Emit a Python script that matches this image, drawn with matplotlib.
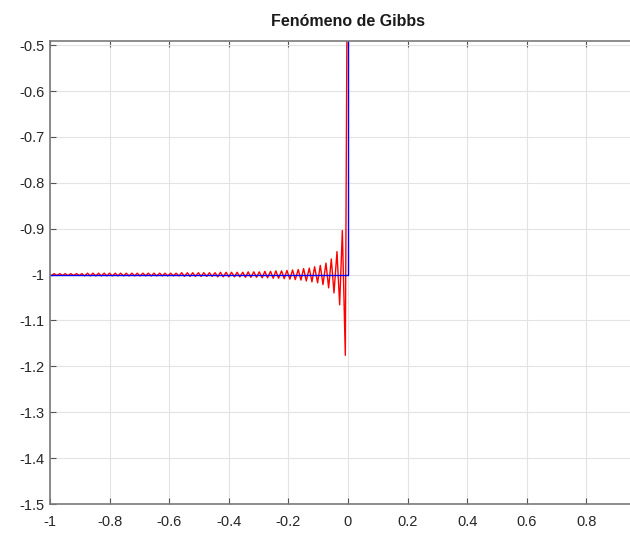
import matplotlib

matplotlib.use("Agg")
import matplotlib.pyplot as plt

# Square wave (blue) and its Fourier partial sum (red)
square_x = [-1.0, 0.0, 0.0, 1.0]
square_y = [-1.0, -1.0, 1.0, 1.0]

# extrema of the red ripple, walking left from x = 0
ripple_x = [
    -0.009, -0.019, -0.028, -0.037, -0.047, -0.056, -0.065, -0.074, -0.084, -0.093,
    -0.102, -0.112, -0.121, -0.130, -0.140, -0.149, -0.158, -0.167, -0.177, -0.186,
    -0.195, -0.205, -0.214, -0.223, -0.233, -0.242, -0.251, -0.260, -0.270, -0.279,
    -0.288, -0.298, -0.307, -0.316, -0.326, -0.335, -0.344, -0.353, -0.363, -0.372,
    -0.381, -0.391, -0.400, -0.409, -0.419, -0.428, -0.437, -0.446, -0.456, -0.465,
    -0.474, -0.484, -0.493, -0.502, -0.512, -0.521, -0.530, -0.539, -0.549, -0.558,
    -0.567, -0.577, -0.586, -0.595, -0.605, -0.614, -0.623, -0.632, -0.642, -0.651,
    -0.660, -0.670, -0.679, -0.688, -0.698, -0.707, -0.716, -0.725, -0.735, -0.744,
    -0.753, -0.763, -0.772, -0.781, -0.791, -0.800, -0.809, -0.818, -0.828, -0.837,
    -0.846, -0.856, -0.865, -0.874, -0.884, -0.893, -0.902, -0.911, -0.921, -0.930,
    -0.939, -0.949, -0.958, -0.967, -0.977, -0.986, -0.995,
]
ripple_y = [
    -1.176, -0.904, -1.066, -0.950, -1.040, -0.966, -1.029, -0.975, -1.022, -0.980,
    -1.018, -0.983, -1.016, -0.986, -1.014, -0.987, -1.012, -0.989, -1.011, -0.990,
    -1.010, -0.991, -1.009, -0.992, -1.008, -0.992, -1.008, -0.993, -1.007, -0.993,
    -1.007, -0.994, -1.006, -0.994, -1.006, -0.994, -1.006, -0.995, -1.005, -0.995,
    -1.005, -0.995, -1.005, -0.995, -1.005, -0.995, -1.005, -0.996, -1.004, -0.996,
    -1.004, -0.996, -1.004, -0.996, -1.004, -0.996, -1.004, -0.996, -1.004, -0.996,
    -1.003, -0.997, -1.003, -0.997, -1.003, -0.997, -1.003, -0.997, -1.003, -0.997,
    -1.003, -0.997, -1.003, -0.997, -1.003, -0.997, -1.003, -0.997, -1.003, -0.997,
    -1.003, -0.997, -1.003, -0.997, -1.003, -0.997, -1.003, -0.997, -1.003, -0.997,
    -1.003, -0.997, -1.003, -0.997, -1.003, -0.998, -1.002, -0.998, -1.002, -0.998,
    -1.002, -0.998, -1.002, -0.998, -1.002, -0.998, -1.002,
]
# jump through zero and the (off-screen) positive side
jump_x = [0.0, 0.009, 1.0]
jump_y = [0.0, 1.179, 1.0]

x_ticks = [-1, -0.8, -0.6, -0.4, -0.2, 0, 0.2, 0.4, 0.6, 0.8]
x_labels = ["-1", "-0.8", "-0.6", "-0.4", "-0.2", "0", "0.2", "0.4", "0.6", "0.8"]
y_ticks = [-1.5, -1.4, -1.3, -1.2, -1.1, -1.0, -0.9, -0.8, -0.7, -0.6, -0.5]
y_labels = ["-1.5", "-1.4", "-1.3", "-1.2", "-1.1", "-1", "-0.9", "-0.8", "-0.7", "-0.6", "-0.5"]

red_x = [-1.0] + ripple_x[::-1] + jump_x
red_y = [-1.0] + ripple_y[::-1] + jump_y

plt.rcParams["font.family"] = ["Liberation Sans", "DejaVu Sans"]

fig = plt.figure(figsize=(6.3, 5.34), dpi=100)
# axes runs past the right edge of the picture, as in the cropped screenshot
ax = fig.add_axes([50 / 630, 30 / 534, 596 / 630, 463 / 534])

ax.plot(red_x, red_y, color="red", lw=1.0)
ax.plot(square_x, square_y, color="blue", lw=1.0)

ax.set_xlim(-1, 1)
ax.set_ylim(-1.5, -0.491)
ax.set_xticks(x_ticks)
ax.set_xticklabels(x_labels)
ax.set_yticks(y_ticks)
ax.set_yticklabels(y_labels)

ax.grid(True, color="#e3e3e3", lw=0.8)
ax.set_axisbelow(True)
ax.tick_params(direction="in", length=4, width=0.8, color="#555555",
               labelsize=10.5, labelcolor="#262626", top=True, right=True, pad=4)
ax.tick_params(axis="x", pad=8)
for s in ax.spines.values():
    s.set_color("#7a7a7a")
    s.set_linewidth(1.2)

ax.set_title("Fenómeno de Gibbs", fontsize=11.5, fontweight="bold", color="#1a1a1a", pad=11)

fig.savefig("out.png", dpi=100)
